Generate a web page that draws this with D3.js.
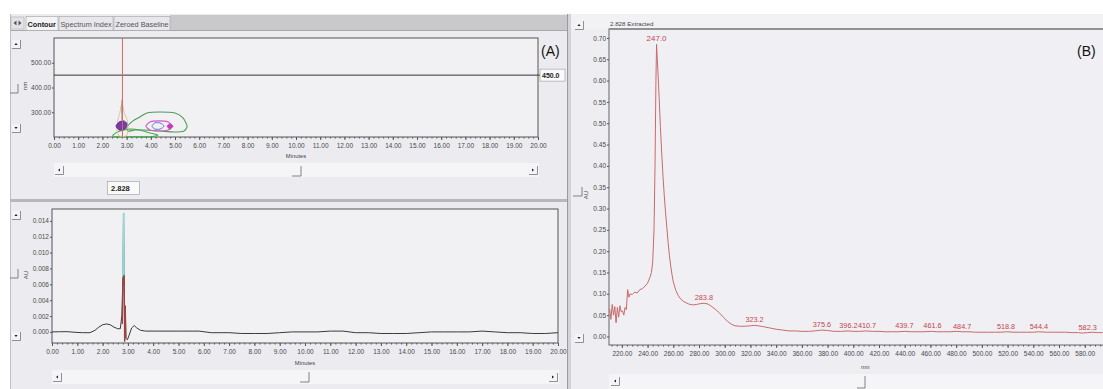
<!DOCTYPE html>
<html><head><meta charset="utf-8">
<script src="https://cdn.jsdelivr.net/npm/d3@7"></script>
<style>
body{margin:0;background:#fff;}
svg{display:block;}
.tk text{font-family:"Liberation Sans",Arial,sans-serif;font-size:6.5px;fill:#4a4a4a;}
.tk path.domain{display:none;}
.tk line{stroke:#555;}
.ui{font-family:"Liberation Sans",Arial,sans-serif;}
</style></head><body>
<svg id="c" width="1103" height="389"></svg>
<script>
// ---------------- data ----------------
const tabLabels = ["Contour", "Spectrum Index", "Zeroed Baseline"];
const minuteTicks = [0,1,2,3,4,5,6,7,8,9,10,11,12,13,14,15,16,17,18,19,20];
const contourNmTicks = [300, 400, 500];
const chromAUTicks = [0.000,0.002,0.004,0.006,0.008,0.010,0.012,0.014];
const spectrumNmTicks = [220,240,260,280,300,320,340,360,380,400,420,440,460,480,500,520,540,560,580];
const spectrumAUTicks = [0.00,0.05,0.10,0.15,0.20,0.25,0.30,0.35,0.40,0.45,0.50,0.55,0.60,0.65,0.70];

const cursorMinutes = 2.828;
const cursorNm = 450.0;

// contour lines [minutes, nm]
const contourGreenOuter = [[3.02,240],[3.26,265],[3.55,281],[3.84,297],[4.38,301],[5.0,297],[5.33,277],[5.50,244],[5.37,224],[5.0,220],[4.38,224],[3.76,228],[3.35,228],[3.06,224]];
const contourPinkRing = [[3.80,244],[3.97,261],[4.34,265],[4.71,261],[4.88,244],[4.71,228],[4.34,224],[3.97,228]];
const contourBlueInner = [[4.05,244],[4.17,257],[4.38,257],[4.55,244],[4.38,232],[4.17,232]];
const contourMagentaCore = [[4.67,244],[4.79,253],[4.92,244],[4.79,232]];
const contourPurpleCore = [[2.56,244],[2.69,261],[2.89,265],[3.02,253],[2.93,232],[2.69,228]];
const contourYellow = [[2.77,325],[2.85,328],[2.89,301],[3.02,269],[3.06,228],[2.98,204],[2.69,204],[2.60,228],[2.64,269],[2.73,301]];
const contourGreenLower = [[2.44,208],[2.73,224],[3.14,232],[3.55,228],[3.97,216],[4.30,208],[3.97,201],[3.14,201],[2.52,201]];
const contourGrayTrace = [[2.80,350],[2.78,320],[2.81,290],[2.79,270]];

// chromatogram [minutes, AU]
const chromTrace = [[0,0],[0.3,0.00002],[0.6,0.00003],[0.9,-0.00005],[1.2,-0.0001],[1.5,-0.0001],[1.7,0.0002],[1.85,0.0006],[2.0,0.0009],[2.15,0.001],[2.3,0.0009],[2.45,0.0006],[2.6,0.0004],[2.7,0.0004],[2.76,0.002],[2.80,0.0065],[2.83,0.0150],[2.855,0.0068],[2.87,-0.0012],[2.895,0.0033],[2.92,-0.0008],[2.98,-0.0010],[3.05,-0.0004],[3.15,0.0005],[3.25,0.0008],[3.35,0.0005],[3.5,0.0002],[3.7,0.0001],[4.0,0.0001],[5.0,0.0001],[5.8,0.0001],[6.3,-0.0001],[7.0,-0.0001],[7.5,-0.0002],[8.0,-0.0002],[8.5,-0.0002],[9.0,-0.0001],[9.5,0],[10,0],[10.5,0],[11.0,0.0001],[11.5,0.0001],[12.0,-0.0001],[12.5,-0.0001],[13.0,-0.0002],[13.5,-0.0002],[14.0,-0.0002],[14.5,-0.0001],[15.0,0],[15.5,0],[16.0,0],[16.5,0],[17.0,0.0001],[17.5,0],[18.0,-0.0001],[18.5,-0.0001],[19.0,-0.0002],[19.5,-0.0002],[20,-0.0001]];
const chromPeakCyan = [[2.807,0.0068],[2.83,0.0150],[2.84,0.0072]];
const chromPeakRed = [[2.78,0.0010],[2.805,0.0068],[2.83,0.0070],[2.855,0.0068],[2.87,-0.0012],[2.895,0.0033],[2.92,-0.0008]];

// spectrum [nm, AU]
const spectrum = [[210.5,0.065],[211.5,0.040],[212.5,0.075],[213.5,0.050],[214.5,0.070],[215.5,0.032],[216.5,0.068],[217.5,0.045],[218.5,0.072],[219.5,0.058],[220.5,0.060],[221.5,0.050],[222.5,0.068],[223.5,0.063],[224.5,0.110],[225.5,0.092],[226.5,0.100],[228,0.098],[230,0.104],[232,0.102],[234,0.110],[236,0.112],[238,0.118],[240,0.125],[242,0.140],[243,0.150],[244,0.175],[245,0.250],[245.8,0.400],[246.5,0.600],[247,0.685],[248,0.625],[249,0.560],[250,0.490],[251,0.430],[252,0.375],[253,0.330],[254,0.290],[255,0.255],[256,0.220],[257,0.190],[258,0.165],[259,0.145],[260,0.128],[262,0.108],[264,0.095],[266,0.087],[268,0.082],[270,0.079],[272,0.076],[275,0.074],[278,0.075],[281,0.077],[284,0.078],[287,0.076],[290,0.070],[293,0.063],[296,0.055],[299,0.045],[302,0.036],[305,0.029],[308,0.025],[312,0.024],[316,0.024],[320,0.025],[323,0.026],[326,0.025],[330,0.023],[335,0.020],[340,0.017],[345,0.015],[350,0.013],[355,0.013],[360,0.012],[365,0.012],[370,0.013],[375,0.015],[380,0.014],[385,0.012],[390,0.012],[396,0.013],[400,0.012],[405,0.012],[410,0.013],[415,0.012],[420,0.012],[425,0.011],[430,0.011],[435,0.011],[440,0.012],[445,0.011],[450,0.011],[455,0.011],[461,0.012],[465,0.011],[470,0.011],[475,0.011],[480,0.012],[485,0.011],[490,0.011],[495,0.010],[500,0.010],[505,0.010],[510,0.010],[515,0.010],[519,0.011],[525,0.010],[530,0.010],[535,0.010],[540,0.010],[544,0.011],[550,0.010],[555,0.010],[560,0.010],[565,0.010],[570,0.009],[575,0.009],[578,0.008],[582,0.009],[586,0.010],[590,0.009],[594,0.009]];
const peakLabels = [247.0,283.8,323.2,375.6,396.2,410.7,439.7,461.6,484.7,518.8,544.4,582.3];

// ---------------- drawing ----------------
const svg = d3.select('#c');
const fmt2 = d3.format('.2f');

// panels
svg.append('rect').attr('x',10).attr('y',14).attr('width',557).attr('height',375).attr('fill','#ececf0');
svg.append('rect').attr('x',571).attr('y',14).attr('width',532).attr('height',375).attr('fill','#ededf2');
svg.append('rect').attr('x',567).attr('y',14).attr('width',4).attr('height',375).attr('fill','#d4d4d8');
svg.append('line').attr('x1',567.5).attr('x2',567.5).attr('y1',14).attr('y2',389).attr('stroke','#9a9aa0');
svg.append('line').attr('x1',10.5).attr('x2',10.5).attr('y1',14).attr('y2',389).attr('stroke','#c0c0c4');

// tab bar
svg.append('rect').attr('x',170).attr('y',15).attr('width',397).attr('height',15).attr('fill','#c9c9cc');
svg.append('line').attr('x1',10).attr('x2',567).attr('y1',30.5).attr('y2',30.5).attr('stroke','#a8a8ac');
svg.append('rect').attr('x',11).attr('y',17).attr('width',13).attr('height',12).attr('fill','#e4e4e8').attr('stroke','#aaa').attr('stroke-width',0.6);
svg.append('path').attr('d','M13.5,23 L16.5,20.5 L16.5,25.5Z M21.5,23 L18.5,20.5 L18.5,25.5Z').attr('fill','#555');
const tabX = [26, 59, 114], tabW = [32, 54, 56];
tabLabels.forEach((t,i)=>{
  svg.append('rect').attr('x',tabX[i]).attr('y',16.5).attr('width',tabW[i]).attr('height',14).attr('fill', i===0?'#f4f4f6':'#e8e8ec').attr('stroke','#a0a0a4').attr('stroke-width',0.6);
  svg.append('text').attr('class','ui').attr('x',tabX[i]+1.5).attr('y',26.5).attr('font-size',7.3).attr('font-weight',i===0?'bold':'normal').attr('fill', i===0?'#222':'#555').text(t);
});

// ---------- helper widgets ----------
function arrowBtn(x,y,dir){
  const g = svg.append('g');
  g.append('rect').attr('x',x).attr('y',y).attr('width',8).attr('height',8).attr('fill','#f4f4f6');
  g.append('path').attr('d',`M${x},${y+8.5}H${x+8.5}V${y}`).attr('fill','none').attr('stroke','#777').attr('stroke-width',0.8);
  const cx=x+4, cy=y+4;
  let d;
  if(dir==='up') d=`M${cx-1.6},${cy+1}L${cx+1.6},${cy+1}L${cx},${cy-1}Z`;
  if(dir==='down') d=`M${cx-1.6},${cy-1}L${cx+1.6},${cy-1}L${cx},${cy+1}Z`;
  if(dir==='left') d=`M${cx+1},${cy-1.6}L${cx+1},${cy+1.6}L${cx-1},${cy}Z`;
  if(dir==='right') d=`M${cx-1},${cy-1.6}L${cx-1},${cy+1.6}L${cx+1},${cy}Z`;
  g.append('path').attr('d',d).attr('fill','#222');
}
function thumb(x,y,w,h){
  svg.append('path').attr('d',`M${x},${y+h}H${x+w}V${y}`).attr('fill','none').attr('stroke','#777').attr('stroke-width',0.9);
}
function hScroll(x1,x2,y){
  svg.append('rect').attr('x',x1).attr('y',y-2).attr('width',x2-x1).attr('height',14).attr('fill','#f5f5f7');
  arrowBtn(x1+1,y+1,'left');
  arrowBtn(x2-10,y+1,'right');
}
function vLabel(x,y,t){
  svg.append('text').attr('class','ui').attr('transform',`translate(${x},${y}) rotate(-90)`).attr('text-anchor','middle').attr('font-size',6).attr('fill','#444').text(t);
}

// ================= (A) contour =================
const cx = d3.scaleLinear([0,20],[54,538]);
const cy = d3.scaleLinear([200,600],[137,38]);
svg.append('rect').attr('x',54).attr('y',38).attr('width',484).attr('height',99).attr('fill','#f1f1f4').attr('stroke','#555').attr('stroke-width',1);
svg.append('g').attr('class','tk').attr('transform','translate(0,137)')
  .call(d3.axisBottom(cx).tickValues(minuteTicks).tickFormat(fmt2).tickSize(3).tickPadding(3));
svg.append('g').attr('class','tk').attr('transform','translate(0,137)')
  .call(d3.axisBottom(cx).tickValues(d3.range(0,100).map(i=>i*0.2)).tickFormat('').tickSize(1.5));
svg.append('g').attr('class','tk').attr('transform','translate(54,0)')
  .call(d3.axisLeft(cy).tickValues(contourNmTicks).tickFormat(fmt2).tickSize(2).tickPadding(1));
svg.append('text').attr('class','ui').attr('x',cx(10)).attr('y',158).attr('text-anchor','middle').attr('font-size',5.8).attr('fill','#444').text('Minutes');
vLabel(27,86,'nm');

const closed = (sx,sy)=>d3.line().x(d=>sx(d[0])).y(d=>sy(d[1])).curve(d3.curveCardinalClosed.tension(0.3));
const cl = closed(cx,cy);
svg.append('path').attr('d',cl(contourGreenLower)).attr('fill','none').attr('stroke','#3cb043').attr('stroke-width',1.1);
svg.append('path').attr('d',cl(contourGreenOuter)).attr('fill','none').attr('stroke','#4f9a55').attr('stroke-width',1.1);
svg.append('path').attr('d',cl(contourPinkRing)).attr('fill','none').attr('stroke','#d05cc0').attr('stroke-width',1.1);
svg.append('path').attr('d',cl(contourBlueInner)).attr('fill','none').attr('stroke','#6a70d8').attr('stroke-width',1);
svg.append('path').attr('d',cl(contourMagentaCore)).attr('fill','#c23cb8').attr('stroke','#c23cb8').attr('stroke-width',0.8);
svg.append('path').attr('d',cl(contourYellow)).attr('fill','none').attr('stroke','#dcc088').attr('stroke-width',0.9);
svg.append('path').attr('d',cl(contourPurpleCore)).attr('fill','#7a3aa8').attr('stroke','#5a2a90').attr('stroke-width',0.8);
svg.append('path').attr('d',d3.line().x(d=>cx(d[0])).y(d=>cy(d[1])).curve(d3.curveBasis)(contourGrayTrace)).attr('fill','none').attr('stroke','#888').attr('stroke-width',0.7);

// cursors
svg.append('line').attr('x1',cx(0)).attr('x2',cx(20)+2).attr('y1',cy(cursorNm)).attr('y2',cy(cursorNm)).attr('stroke','#333').attr('stroke-width',1);
svg.append('line').attr('x1',cx(cursorMinutes)).attr('x2',cx(cursorMinutes)).attr('y1',38).attr('y2',137).attr('stroke','#d06868').attr('stroke-width',1);
svg.append('rect').attr('x',540).attr('y',cy(cursorNm)-6).attr('width',25).attr('height',12).attr('fill','#fafafa').attr('stroke','#999').attr('stroke-width',0.6);
svg.append('text').attr('class','ui').attr('x',542).attr('y',cy(cursorNm)+2.5).attr('font-size',7).attr('font-weight','bold').attr('fill','#222').text(cursorNm.toFixed(1));
svg.append('text').attr('x',541).attr('y',56).attr('font-family','Liberation Sans, Arial, sans-serif').attr('font-size',14).attr('fill','#111').text('(A)');

// contour side widgets
arrowBtn(12,40,'up'); arrowBtn(12,124,'down'); thumb(10,84,8,9);
hScroll(54,539,165); thumb(292,166,9,10);
svg.append('rect').attr('x',107.5).attr('y',181.5).attr('width',32).attr('height',13).attr('fill','#fafafa').attr('stroke','#999').attr('stroke-width',0.6);
svg.append('text').attr('class','ui').attr('x',111).attr('y',191).attr('font-size',7.5).attr('font-weight','bold').attr('fill','#222').text(cursorMinutes.toFixed(3));

// divider
svg.append('rect').attr('x',10).attr('y',199).attr('width',557).attr('height',3).attr('fill','#b8b8bc');

// ================= chromatogram =================
const hx = d3.scaleLinear([0,20],[52,558]);
const hy = d3.scaleLinear([-0.0014,0.0155],[343,209]);
svg.append('rect').attr('x',52).attr('y',209).attr('width',506).attr('height',134).attr('fill','#f1f1f4').attr('stroke','#555').attr('stroke-width',1);
svg.append('g').attr('class','tk').attr('transform','translate(0,343)')
  .call(d3.axisBottom(hx).tickValues(minuteTicks).tickFormat(fmt2).tickSize(3).tickPadding(3));
svg.append('g').attr('class','tk').attr('transform','translate(0,343)')
  .call(d3.axisBottom(hx).tickValues(d3.range(0,100).map(i=>i*0.2)).tickFormat('').tickSize(1.5));
svg.append('g').attr('class','tk').attr('transform','translate(52,0)')
  .call(d3.axisLeft(hy).tickValues(chromAUTicks).tickFormat(d3.format('.3f')).tickSize(2).tickPadding(1));
svg.append('text').attr('class','ui').attr('x',hx(10)).attr('y',365).attr('text-anchor','middle').attr('font-size',5.8).attr('fill','#444').text('Minutes');
vLabel(28,275,'AU');
const hl = d3.line().x(d=>hx(d[0])).y(d=>hy(d[1]));
svg.append('path').attr('d',hl(chromTrace)).attr('fill','none').attr('stroke','#3a3a3a').attr('stroke-width',1);
svg.append('path').attr('d',hl(chromPeakCyan)).attr('fill','none').attr('stroke','#9ad8d8').attr('stroke-width',1.8);
svg.append('path').attr('d',hl(chromPeakRed)).attr('fill','none').attr('stroke','#9a4444').attr('stroke-width',1.3);
arrowBtn(12,211,'up'); arrowBtn(12,332,'down'); thumb(10,269,8,9);
hScroll(52,559,372); thumb(300,372,9,10);

// ================= (B) spectrum =================
const sx = d3.scaleLinear([210,595],[609,1104]);
const sy = d3.scaleLinear([-0.02,0.721],[345,29]);
svg.append('rect').attr('x',571).attr('y',14).attr('width',532).attr('height',15).attr('fill','#f2f2f5');
svg.append('rect').attr('x',609).attr('y',29).attr('width',500).attr('height',316).attr('fill','#f0f0f4').attr('stroke','#666').attr('stroke-width',1);
svg.append('line').attr('x1',609).attr('x2',1103).attr('y1',29).attr('y2',29).attr('stroke','#8a8a8e').attr('stroke-width',1.6);
svg.append('g').attr('class','tk').attr('transform','translate(0,345)')
  .call(d3.axisBottom(sx).tickValues(spectrumNmTicks).tickFormat(fmt2).tickSize(3).tickPadding(3));
svg.append('g').attr('class','tk').attr('transform','translate(0,345)')
  .call(d3.axisBottom(sx).tickValues(d3.range(0,97).map(i=>212+i*4)).tickFormat('').tickSize(1.5));
svg.append('g').attr('class','tk').attr('transform','translate(609,0)')
  .call(d3.axisLeft(sy).tickValues(spectrumAUTicks).tickFormat(fmt2).tickSize(2).tickPadding(1));
svg.append('text').attr('class','ui').attr('x',610).attr('y',26).attr('font-size',6.2).attr('fill','#444').text(cursorMinutes.toFixed(3)+' Extracted');
svg.append('text').attr('class','ui').attr('x',sx(400)+12).attr('y',369).attr('text-anchor','middle').attr('font-size',6).attr('fill','#444').text('nm');
vLabel(588,195,'AU');
svg.append('path').attr('d',d3.line().x(d=>sx(d[0])).y(d=>sy(d[1]))(spectrum)).attr('fill','none').attr('stroke','#c96a6a').attr('stroke-width',1);
const auAt = nm => { let best=spectrum[0]; spectrum.forEach(p=>{ if(Math.abs(p[0]-nm)<Math.abs(best[0]-nm)) best=p;}); return best[1]; };
peakLabels.forEach(nm=>{
  svg.append('text').attr('class','ui').attr('x',sx(nm)).attr('y',sy(auAt(nm))-3).attr('text-anchor','middle')
    .attr('font-size',nm===247?8:7.3).attr('fill','#c4454f').text(nm.toFixed(1));
});
svg.append('text').attr('x',1077).attr('y',56).attr('font-family','Liberation Sans, Arial, sans-serif').attr('font-size',14).attr('fill','#111').text('(B)');
arrowBtn(575,21,'up'); arrowBtn(575,334,'down'); thumb(573,187,9,9);
svg.append('rect').attr('x',609).attr('y',374).attr('width',494).attr('height',15).attr('fill','#f5f5f7');
arrowBtn(611,377,'left'); thumb(857,376,8,12);
</script>
</body></html>
